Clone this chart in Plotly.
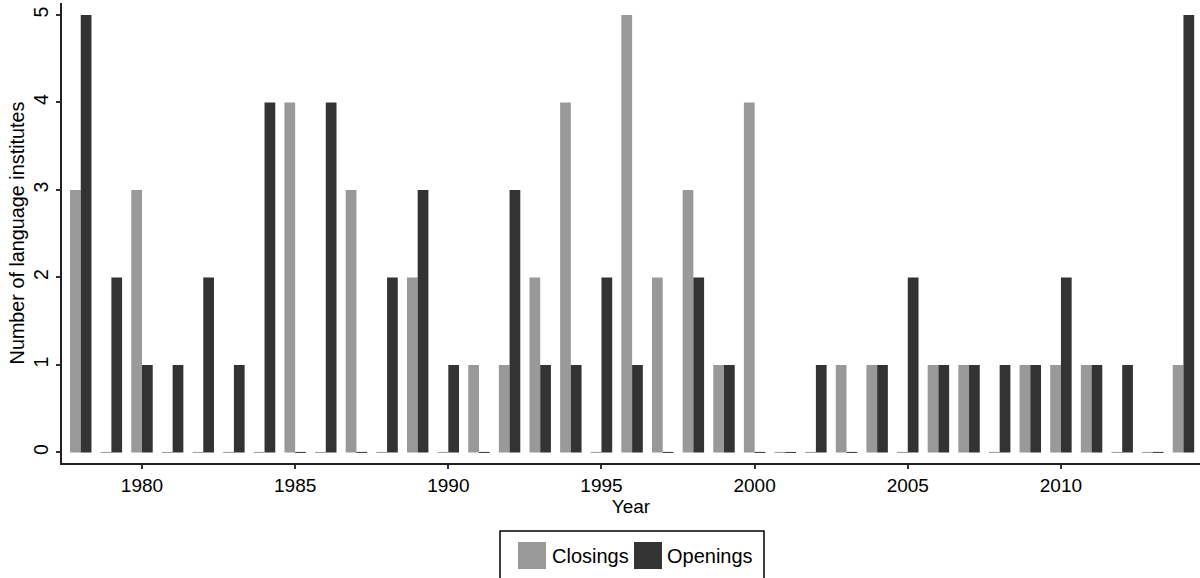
import plotly.graph_objects as go

years = list(range(1978, 2015))
closings = [3, 0, 3, 0, 0, 0, 0, 4, 0, 3, 0, 2, 0, 1, 1, 2, 4, 0, 5, 2, 3, 1, 4, 0, 0, 1, 1, 0, 1, 1, 0, 1, 1, 1, 0, 0, 1]
openings = [5, 2, 1, 1, 2, 1, 4, 0, 4, 0, 2, 3, 1, 0, 3, 1, 1, 2, 1, 0, 2, 1, 0, 0, 1, 0, 1, 2, 1, 1, 1, 1, 2, 1, 1, 0, 5]
xticks = [1980, 1985, 1990, 1995, 2000, 2005, 2010]
yticks = [0, 1, 2, 3, 4, 5]

C_COL = "#999999"
O_COL = "#333333"
FONT = "Liberation Sans, Arial, sans-serif"
BAR_W = 0.35

W, H = 1200, 578
ML, MR, MT, MB = 62, 0, 3, 115
PW = W - ML - MR
PH = H - MT - MB

fig = go.Figure()
fig.add_trace(go.Bar(x=years, y=closings, name="Closings", marker=dict(color=C_COL, line=dict(width=0))))
fig.add_trace(go.Bar(x=years, y=openings, name="Openings", marker=dict(color=O_COL, line=dict(width=0))))

# thin lines for zero-valued bars
def zero_segments(vals, left):
    xs, ys = [], []
    for yr, v in zip(years, vals):
        if v == 0:
            if left:
                xs += [yr - BAR_W, yr, None]
            else:
                xs += [yr, yr + BAR_W, None]
            ys += [0, 0, None]
    return xs, ys

zx, zy = zero_segments(closings, True)
fig.add_trace(go.Scatter(x=zx, y=zy, mode="lines", line=dict(color=C_COL, width=1), showlegend=False, hoverinfo="skip", cliponaxis=False))
zx, zy = zero_segments(openings, False)
fig.add_trace(go.Scatter(x=zx, y=zy, mode="lines", line=dict(color=O_COL, width=1), showlegend=False, hoverinfo="skip", cliponaxis=False))

fig.update_layout(
    width=W, height=H,
    margin=dict(l=ML, r=MR, t=MT, b=MB, autoexpand=False),
    paper_bgcolor="white", plot_bgcolor="white",
    barmode="group", bargap=0.30, bargroupgap=0,
    showlegend=False,
    font=dict(family=FONT, size=19, color="#000000"),
)
fig.update_xaxes(
    range=[1977.388, 2014.54],
    tickvals=xticks, ticktext=[str(t) for t in xticks],
    ticks="outside", ticklen=4, tickwidth=1.5, tickcolor="#333333",
    showline=True, linecolor="#222222", linewidth=1.5,
    showgrid=False, zeroline=False, automargin=True,
    tickfont=dict(size=19),
    title=dict(text="Year", font=dict(size=19), standoff=1),
)
fig.update_yaxes(
    range=[-0.121, 5.137],
    tickvals=yticks, ticktext=[str(t) for t in yticks],
    ticks="outside", ticklen=4, tickwidth=1.5, tickcolor="#333333",
    showline=True, linecolor="#222222", linewidth=1.5,
    showgrid=False, zeroline=False, automargin=True,
    tickangle=-90, tickfont=dict(size=19.5),
    title=dict(text="Number of language institutes", font=dict(size=19.8), standoff=1),
)

# custom legend (pixel -> paper)
def px(xp):
    return (xp - ML) / PW

def py(yp):
    return (H - MB - yp) / PH

fig.add_shape(type="rect", xref="paper", yref="paper",
              x0=px(500), x1=px(764), y0=py(590), y1=py(531),
              line=dict(color="#000000", width=1.5), fillcolor="white", layer="above")
fig.add_shape(type="rect", xref="paper", yref="paper",
              x0=px(518), x1=px(546), y0=py(569), y1=py(542),
              line=dict(width=0), fillcolor=C_COL)
fig.add_shape(type="rect", xref="paper", yref="paper",
              x0=px(634), x1=px(662), y0=py(569), y1=py(542),
              line=dict(width=0), fillcolor=O_COL)
fig.add_annotation(xref="paper", yref="paper", x=px(550), y=py(556), text="Closings",
                   showarrow=False, xanchor="left", yanchor="middle", font=dict(size=20))
fig.add_annotation(xref="paper", yref="paper", x=px(665), y=py(556), text="Openings",
                   showarrow=False, xanchor="left", yanchor="middle", font=dict(size=20))

fig.write_html("out.html", config={"displayModeBar": False},
               post_script="document.body.style.margin='0';document.body.style.overflow='hidden';")
